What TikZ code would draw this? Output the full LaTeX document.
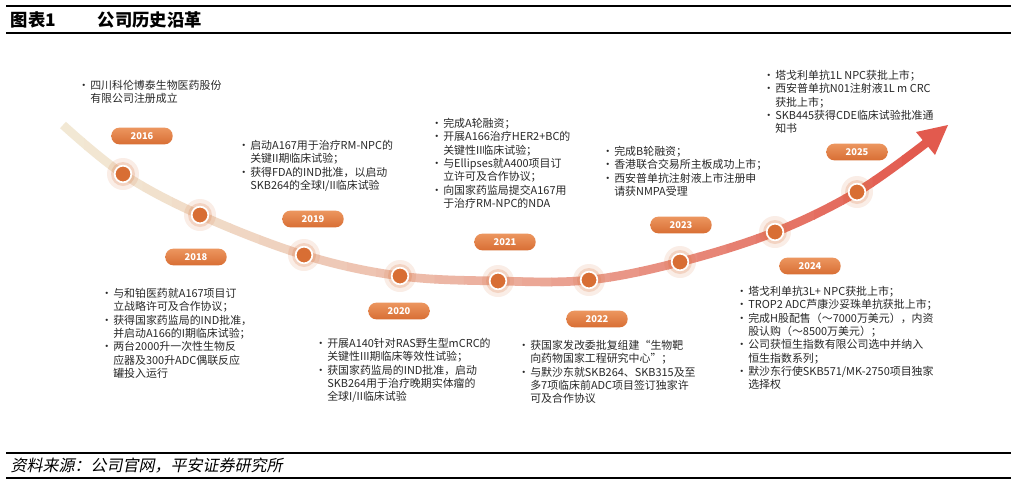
\documentclass[tikz,border=0pt]{standalone}
\usepackage{fontspec}
\setmainfont{Noto Sans CJK SC}
\newfontfamily\srcfont[FakeSlant=0.2]{Noto Sans CJK SC}
\usetikzlibrary{positioning}
\definecolor{crvbeige}{RGB}{242,232,212}
\definecolor{crvred}{RGB}{226,90,78}
\definecolor{yrorange}{RGB}{216,110,52}
\definecolor{yrlight}{RGB}{236,150,95}
\definecolor{txtgray}{RGB}{40,40,40}
\newcommand{\bl}{\makebox[9pt][l]{•}}
\newcommand{\ind}{\hspace*{9pt}}
\tikzset{
  year/.style={rounded corners=6pt,minimum width=46pt,minimum height=12.5pt,inner sep=0pt,
    top color=yrlight,bottom color=yrorange,text=white,font=\fontsize{7pt}{8pt}\selectfont\bfseries},
  note/.style={anchor=north west,inner sep=0pt,align=left,text=txtgray,
    font=\fontsize{8.2pt}{10pt}\selectfont},
  dot/.style={circle,draw=white,line width=1.3pt,fill=yrorange,minimum size=12.5pt,inner sep=0pt}
}
\begin{document}
\begin{tikzpicture}[x=0.75pt,y=-0.75pt]
 \useasboundingbox[fill=white] (0,0) rectangle (1017,483);
 % header and footer
 \draw[thick] (6,6) -- (1011,6);
 \draw[thick] (6,33) -- (1011,33);
 \node[anchor=west,font=\fontsize{13pt}{14pt}\selectfont\bfseries] (title) at (6,20) {图表1};
 \node[anchor=west,font=\fontsize{13pt}{14pt}\selectfont\bfseries] (subject) at (93,20) {公司历史沿革};
 \draw[thick] (6,453) -- (1011,453);
 \draw[thick] (6,478) -- (1011,478);
 \node[anchor=west,font=\fontsize{12pt}{13pt}\srcfont] (source) at (6,466) {资料来源：公司官网，平安证券研究所};
 % curve, coloured strip by strip
 \def\crv{plot[smooth,tension=0.6] coordinates {(63,125) (123,174) (200,215) (304,255) (400,276) (498,281) (589,280) (680,262) (775,232) (857,192) (926,143)}}
 \foreach \i in {0,...,29}{
   \pgfmathsetmacro{\xa}{55+\i*29.2}
   \pgfmathsetmacro{\xb}{\xa+30}
   \pgfmathsetmacro{\p}{min(100,100*(\i/29)^1.3)}
   \begin{scope}
     \clip (\xa,100) rectangle (\xb,300);
     \draw[line width=6.5pt,crvred!\p!crvbeige] \crv;
   \end{scope}
 }
 \fill[crvred] (948,125) -- (916,132) -- (935,155) -- cycle;
 % dots
 \foreach \nm/\px/\py in {d2016/123/174,d2018/200/215,d2019/304/255,d2020/400/276,d2021/498/281,d2022/589/280,d2023/680/262,d2024/775/232,d2025/857/192}{
   \fill[yrorange,opacity=0.12] (\px,\py) circle (12pt);
   \fill[yrorange,opacity=0.2] (\px,\py) circle (9pt);
   \node[dot] (\nm) at (\px,\py) {};
 }
 % years
 \node[year] (y2016) at (142,136) {2016};
 \node[year] (y2018) at (196,257) {2018};
 \node[year] (y2019) at (313,219) {2019};
 \node[year] (y2020) at (399,311) {2020};
 \node[year] (y2021) at (505,242) {2021};
 \node[year] (y2022) at (597,319) {2022};
 \node[year] (y2023) at (681,225) {2023};
 \node[year] (y2024) at (810,266) {2024};
 \node[year] (y2025) at (857,152) {2025};
 % notes
 \node[note] (n2016) at (78,80) {\bl 四川科伦博泰生物医药股份\\\ind 有限公司注册成立};
 \node[note] (n2019) at (238,140) {\bl 启动A167用于治疗RM-NPC的\\\ind 关键II期临床试验；\\\bl 获得FDA的IND批准，以启动\\\ind SKB264的全球I/II临床试验};
 \node[note] (n2021) at (431,118) {\bl 完成A轮融资；\\\bl 开展A166治疗HER2+BC的\\\ind 关键性II临床试验；\\\bl 与Ellipses就A400项目订\\\ind 立许可及合作协议；\\\bl 向国家药监局提交A167用\\\ind 于治疗RM-NPC的NDA};
 \node[note] (n2023) at (602,146) {\bl 完成B轮融资；\\\bl 香港联合交易所主板成功上市；\\\bl 西安普单抗注射液上市注册申\\\ind 请获NMPA受理};
 \node[note] (n2025) at (763,70) {\bl 塔戈利单抗1L NPC获批上市；\\\bl 西安普单抗N01注射液1L m CRC\\\ind 获批上市；\\\bl SKB445获得CDE临床试验批准通\\\ind 知书};
 \node[note] (n2018) at (101,288) {\bl 与和铂医药就A167项目订\\\ind 立战略许可及合作协议；\\\bl 获得国家药监局的IND批准，\\\ind 并启动A166的I期临床试验；\\\bl 两台2000升一次性生物反\\\ind 应器及300升ADC偶联反应\\\ind 罐投入运行};
 \node[note] (n2020) at (315,338) {\bl 开展A140针对RAS野生型mCRC的\\\ind 关键性III期临床等效性试验；\\\bl 获国家药监局的IND批准，启动\\\ind SKB264用于治疗晚期实体瘤的\\\ind 全球I/II临床试验};
 \node[note] (n2022) at (518,340) {\bl 获国家发改委批复组建“生物靶\\\ind 向药物国家工程研究中心”；\\\bl 与默沙东就SKB264、SKB315及至\\\ind 多7项临床前ADC项目签订独家许\\\ind 可及合作协议};
 \node[note] (n2024) at (736,286) {\bl 塔戈利单抗3L+ NPC获批上市；\\\bl TROP2 ADC芦康沙妥珠单抗获批上市；\\\bl 完成H股配售（～7000万美元），内资\\\ind 股认购（～8500万美元）；\\\bl 公司获恒生指数有限公司选中并纳入\\\ind 恒生指数系列；\\\bl 默沙东行使SKB571/MK-2750项目独家\\\ind 选择权};
\end{tikzpicture}
\end{document}
